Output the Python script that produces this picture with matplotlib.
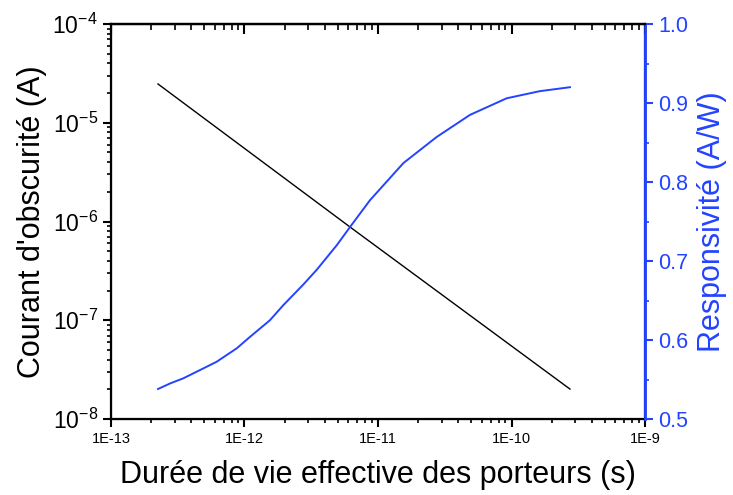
import numpy as np
import matplotlib.pyplot as plt
from matplotlib.ticker import LogLocator, FuncFormatter, MultipleLocator, NullFormatter

plt.rcParams['font.family'] = ['Liberation Sans', 'DejaVu Sans']
plt.rcParams['mathtext.fontset'] = 'custom'
plt.rcParams['mathtext.rm'] = 'Liberation Sans'
plt.rcParams['mathtext.it'] = 'Liberation Sans:italic'
plt.rcParams['mathtext.default'] = 'regular'

# carrier lifetime (s), dark current (A)
tau_dark = [2.25e-13, 6.17e-12, 2.74e-10]
dark = [2.47e-5, 8.8e-7, 2.01e-8]

# responsivity (A/W)
tau_resp = [2.25e-13, 2.77e-13, 3.48e-13, 4.91e-13, 6.19e-13, 8.75e-13, 1.10e-12,
            1.55e-12, 1.95e-12, 2.75e-12, 3.48e-12, 4.91e-12, 6.17e-12, 8.71e-12,
            1.55e-11, 2.75e-11, 4.89e-11, 9.2e-11, 1.63e-10, 2.74e-10]
resp = [0.538, 0.545, 0.5515, 0.564, 0.5725, 0.5895, 0.604,
        0.625, 0.644, 0.670, 0.689, 0.720, 0.743, 0.777,
        0.824, 0.857, 0.885, 0.906, 0.915, 0.920]

xticks = [1e-13, 1e-12, 1e-11, 1e-10, 1e-9]
xlabels = ['1E-13', '1E-12', '1E-11', '1E-10', '1E-9']

blue = '#2443ff'

fig = plt.figure(figsize=(7.33, 4.95), dpi=100)
ax1 = fig.add_axes([0.1514, 0.1535, 0.7286, 0.798])
ax1.plot(tau_dark, dark, color='black', lw=1.0)
ax1.set_xscale('log')
ax1.set_yscale('log')
ax1.set_xlim(1e-13, 1e-9)
ax1.set_ylim(1e-8, 1e-4)
ax1.set_xticks(xticks)
ax1.set_xticklabels(xlabels)
ax1.xaxis.set_minor_locator(LogLocator(base=10, subs=np.arange(2, 10)))
ax1.xaxis.set_minor_formatter(NullFormatter())
ax1.yaxis.set_minor_locator(LogLocator(base=10, subs=np.arange(2, 10)))
ax1.yaxis.set_minor_formatter(NullFormatter())
ax1.yaxis.set_major_formatter(FuncFormatter(lambda v, p: r'$10^{%d}$' % round(np.log10(v))))

for s in ax1.spines.values():
    s.set_linewidth(1.6)
ax1.tick_params(axis='x', which='major', direction='out', length=6, width=1.5, labelsize=10.5)
ax1.tick_params(axis='x', which='minor', direction='out', length=3, width=1.2)
ax1.tick_params(axis='y', which='major', direction='out', length=6, width=1.5, labelsize=16.5)
ax1.tick_params(axis='y', which='minor', direction='out', length=3, width=1.2)
ax1.set_xlabel('Durée de vie effective des porteurs (s)', fontsize=22, labelpad=10)
ax1.set_ylabel("Courant d'obscurité (A)", fontsize=22, labelpad=4)

ax2 = ax1.twinx()
ax2.plot(tau_resp, resp, color=blue, lw=1.4)
ax2.set_ylim(0.5, 1.0)
ax2.yaxis.set_major_locator(MultipleLocator(0.1))
ax2.yaxis.set_minor_locator(MultipleLocator(0.05))
ax2.yaxis.set_major_formatter(FuncFormatter(lambda v, p: '%.1f' % v))
ax2.tick_params(axis='y', which='major', colors=blue, direction='out', length=6, width=1.5, labelsize=15.5)
ax2.tick_params(axis='y', which='minor', colors=blue, direction='out', length=3, width=1.2)
ax2.set_ylabel('Responsivité (A/W)', fontsize=22, color=blue, labelpad=6)

# top axis ticks point inward: drawn with a twin x axis on top
axt = ax2.twiny()
axt.set_xscale('log')
axt.set_xlim(1e-13, 1e-9)
axt.set_xticks(xticks)
axt.set_xticklabels([])
axt.xaxis.set_minor_locator(LogLocator(base=10, subs=np.arange(2, 10)))
axt.xaxis.set_minor_formatter(NullFormatter())
axt.tick_params(axis='x', which='major', direction='in', length=7, width=1.5, top=True, bottom=False)
axt.tick_params(axis='x', which='minor', direction='in', length=4, width=1.2, top=True, bottom=False)
for side in ['left', 'bottom']:
    axt.spines[side].set_visible(False)
axt.spines['top'].set_linewidth(1.6)
axt.spines['right'].set_color(blue)
axt.spines['right'].set_linewidth(1.8)
ax2.spines['right'].set_color(blue)
ax2.spines['right'].set_linewidth(1.8)

fig.savefig('out.png', dpi=100)
